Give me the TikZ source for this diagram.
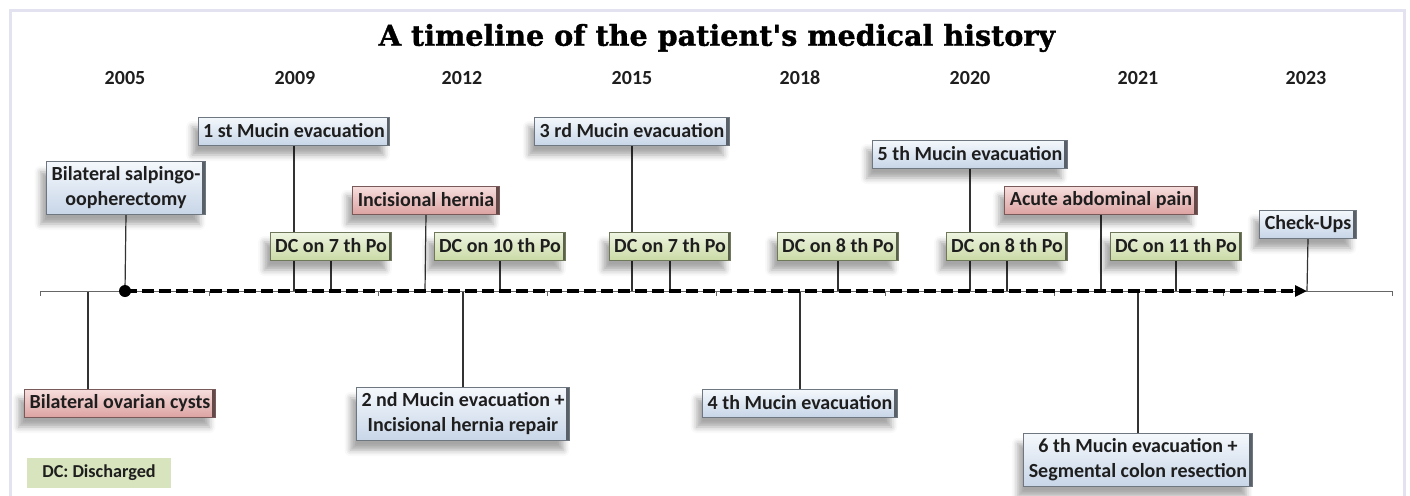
\documentclass[tikz,border=0pt]{standalone}
\usepackage{fontspec}
\setmainfont{Carlito}
\newfontfamily\titlefont[BoldFeatures={FakeBold=1.2}]{DejaVu Serif}
\usetikzlibrary{arrows.meta, shadows.blur, backgrounds}

\definecolor{framecol}{HTML}{E2E2F0}
\definecolor{bluetop}{HTML}{F4F8FC}
\definecolor{bluebot}{HTML}{C8D6E8}
\definecolor{pinktop}{HTML}{F6DEDD}
\definecolor{pinkbot}{HTML}{DCA4A3}
\definecolor{greentop}{HTML}{EFF5E2}
\definecolor{greenbot}{HTML}{CADAA6}
\definecolor{legendgreen}{HTML}{D7E4BD}
\definecolor{inkcol}{HTML}{1E1E1E}

\tikzset{
  event/.style={draw=#1bot!55!black, top color=#1top, bottom color=#1bot,
    line width=0.5pt, text=inkcol, align=center,
    font=\bfseries\fontsize{10}{12.5}\selectfont,
    minimum height=14pt, inner xsep=2.5pt, inner ysep=2.5pt,
    path picture={\fill[#1bot!45!black]
      (path picture bounding box.north east) rectangle
      ([xshift=-1.6pt]path picture bounding box.south east);},
    blur shadow={shadow xshift=-3pt, shadow yshift=-5pt,
      shadow blur radius=3pt, shadow opacity=35}},
  year/.style={font=\bfseries\fontsize{10}{12}\selectfont, text=inkcol},
  stem/.style={draw=black!80, line width=0.6pt},
  axisline/.style={draw=black!60, line width=0.5pt},
  timeline/.style={line width=1.6pt, dash pattern=on 6pt off 2.5pt,
    -{Triangle[length=6pt, width=5.5pt]}}
}

\begin{document}
\begin{tikzpicture}[x=0.5pt, y=-0.5pt]
\useasboundingbox (0,0) rectangle (1410,495);
\draw[framecol, line width=1.5pt] (10,10) rectangle (1404,530);

% title and years
\node[font=\titlefont\bfseries\fontsize{14.3}{16}\selectfont] (title) at (717,38)
  {A timeline of the patient\textquotesingle s medical history};
\foreach \yr/\x in {2005/125, 2009/295, 2012/462, 2015/632,
                    2018/800, 2020/970, 2021/1138, 2023/1306}
  \node[year] (y\yr) at (\x,78) {\yr};

% axis with ticks
\coordinate (axL) at (40,291);
\coordinate (axR) at (1392,291);
\draw[axisline] (axL) -- (axR);
\foreach \x in {40,209,...,1392}
  \draw[axisline] (\x,291) -- (\x,296);

% points where the stems meet the axis
\foreach \name/\x in {a0/88, a1/125, a2/294, a3/331, a4/425, a5/463, a6/500,
                      a7/632, a8/670, a9/800, a10/838, a11/970, a12/1007,
                      a13/1101, a14/1138, a15/1176, a16/1307}
  \coordinate (\name) at (\x,291);

\draw[timeline] (a1) -- (a16);
\fill (a1) circle (3pt);

% events above the axis
\node[event=blue] (salp) at (126,188) {Bilateral salpingo-\\oopherectomy};
\node[event=blue] (muc1) at (294,131) {1 st Mucin evacuation};
\node[event=green] (dc1) at (331,246) {DC on 7 th Po};
\node[event=pink] (hern) at (426,200) {Incisional hernia};
\node[event=green] (dc2) at (500,246) {DC on 10 th Po};
\node[event=blue] (muc3) at (632,131) {3 rd Mucin evacuation};
\node[event=green] (dc3) at (670,246) {DC on 7 th Po};
\node[event=green] (dc4) at (838,246) {DC on 8 th Po};
\node[event=blue] (muc5) at (970,154) {5 th Mucin evacuation};
\node[event=green] (dc5) at (1007,246) {DC on 8 th Po};
\node[event=pink] (pain) at (1101,200) {Acute abdominal pain};
\node[event=green] (dc6) at (1176,246) {DC on 11 th Po};
\node[event=blue] (check) at (1308,224) {Check-Ups};

% events below the axis
\node[event=pink] (cysts) at (120,403) {Bilateral ovarian cysts};
\node[event=blue] (muc2) at (463,414) {2 nd Mucin evacuation +\\Incisional hernia repair};
\node[event=blue] (muc4) at (800,403) {4 th Mucin evacuation};
\node[event=blue] (muc6) at (1138,460) {6 th Mucin evacuation +\\Segmental colon resection};

% legend
\node[fill=legendgreen, minimum width=72pt, minimum height=14pt,
  font=\bfseries\fontsize{9.1}{11}\selectfont, text=inkcol] (legend) at (99,473)
  {DC: Discharged};

% stems
\begin{scope}[on background layer]
\foreach \ev/\pt in {salp/a1, muc1/a2, dc1/a3, hern/a4, dc2/a6, muc3/a7,
                     dc3/a8, dc4/a10, muc5/a11, dc5/a12, pain/a13,
                     dc6/a15, check/a16}
  \draw[stem] (\ev.south) -- (\pt);
\draw[stem] (cysts.north -| a0) -- (a0);
\foreach \ev/\pt in {muc2/a5, muc4/a9, muc6/a14}
  \draw[stem] (\ev.north) -- (\pt);
\end{scope}
\end{tikzpicture}
\end{document}
